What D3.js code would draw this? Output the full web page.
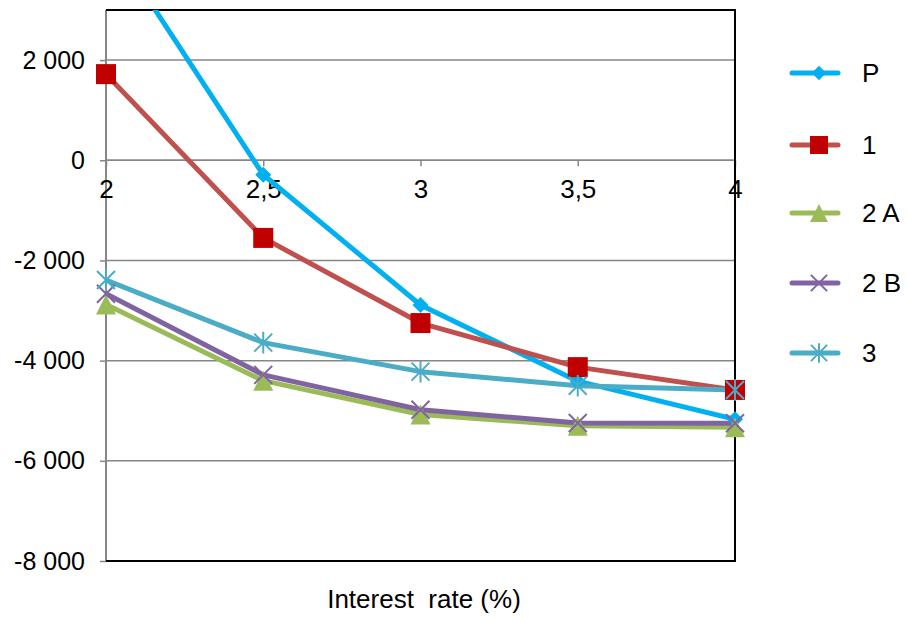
<!DOCTYPE html>
<html>
<head>
<meta charset="utf-8">
<script src="https://cdn.jsdelivr.net/npm/d3@7"></script>
<style>
  body { margin: 0; background: #fff; }
  svg { display: block; }
  text { font-family: "Liberation Sans", Arial, sans-serif; fill: #000; }
</style>
</head>
<body>
<svg id="chart" width="907" height="619"></svg>
<script>
// ---- data ----
const xValues = [2, 2.5, 3, 3.5, 4];
const xTickLabels = ["2", "2,5", "3", "3,5", "4"];
const yTickValues = [-8000, -6000, -4000, -2000, 0, 2000];
const seriesNames = ["P", "1", "2 A", "2 B", "3"];
const valuesP  = [4500, -290, -2890, -4410, -5170];
const values1  = [1720, -1550, -3250, -4130, -4585];
const values2A = [-2880, -4400, -5075, -5300, -5330];
const values2B = [-2665, -4285, -4980, -5245, -5250];
const values3  = [-2390, -3640, -4220, -4500, -4585];
const xTitle = "Interest\u00A0 rate (%)";

const seriesValues = [valuesP, values1, values2A, values2B, values3];
const lineColors   = ["#00B0F0", "#C0504D", "#9BBB59", "#8064A2", "#4BACC6"];
const markerColors = ["#00B0F0", "#C00000", "#9BBB59", "#8064A2", "#4BACC6"];
const markerTypes  = ["diamond", "square", "triangle", "x", "asterisk"];

// ---- layout ----
const svg = d3.select("#chart");
const pL = 106, pR = 735, pT = 10, pB = 561;
const FONT = '"Liberation Sans", Arial, sans-serif';

const x = d3.scaleLinear().domain([2, 4]).range([pL, pR]);
const y = d3.scaleLinear().domain([-8000, 3000]).range([pB, pT]);

const fmt = v => {
  const s = d3.format(",")(Math.abs(v)).replace(/,/g, " ");
  return (v < 0 ? "-" : "") + s;
};

// gridlines
svg.append("g").selectAll("line").data(yTickValues).join("line")
  .attr("x1", pL).attr("x2", pR)
  .attr("y1", d => y(d)).attr("y2", d => y(d))
  .attr("stroke", "#868686").attr("stroke-width", 1.5);

// y axis
const yAxis = d3.axisLeft(y).tickValues(yTickValues).tickSize(6).tickPadding(15).tickFormat(fmt);
const gy = svg.append("g").attr("transform", `translate(${pL},0)`).call(yAxis);
gy.select(".domain").remove();
gy.selectAll(".tick line").attr("stroke", "#868686").attr("stroke-width", 1.5);
gy.selectAll(".tick text").attr("font-size", 25).style("font-family", FONT).attr("fill", "#000");
svg.append("line").attr("x1", pL).attr("x2", pL).attr("y1", pT).attr("y2", pB)
  .attr("stroke", "#868686").attr("stroke-width", 2);

// x axis at y=0
const xAxis = d3.axisBottom(x).tickValues(xValues).tickSize(6).tickPadding(13)
  .tickFormat((d, i) => xTickLabels[i]);
const gx = svg.append("g").attr("transform", `translate(0,${y(0)})`).call(xAxis);
gx.select(".domain").attr("stroke", "#868686").attr("stroke-width", 1.5)
  .attr("d", `M${pL},0H${pR}`);
gx.selectAll(".tick line").attr("stroke", "#868686").attr("stroke-width", 1.5);
gx.selectAll(".tick text").attr("font-size", 26).style("font-family", FONT).attr("fill", "#000");

// plot border (top, right, bottom)
svg.append("path")
  .attr("d", `M${pL},${pT}H${pR}V${pB}H${pL}`)
  .attr("fill", "none").attr("stroke", "#000").attr("stroke-width", 2);

// clip
svg.append("clipPath").attr("id", "plotclip").append("rect")
  .attr("x", pL).attr("y", pT).attr("width", pR - pL).attr("height", pB - pT);

function drawMarker(g, type, cx, cy, color, scale) {
  const s = scale || 1;
  if (type === "diamond") {
    const r = 8 * s;
    g.append("path").attr("d", `M${cx},${cy - r}L${cx + r},${cy}L${cx},${cy + r}L${cx - r},${cy}Z`).attr("fill", color);
  } else if (type === "square") {
    const h = 10 * s;
    g.append("rect").attr("x", cx - h).attr("y", cy - h).attr("width", 2 * h).attr("height", 2 * h).attr("fill", color);
  } else if (type === "triangle") {
    const h = 10 * s;
    g.append("path").attr("d", `M${cx},${cy - h}L${cx + h},${cy + h}L${cx - h},${cy + h}Z`).attr("fill", color);
  } else if (type === "x") {
    const h = 9 * s;
    g.append("path").attr("d", `M${cx - h},${cy - h}L${cx + h},${cy + h}M${cx - h},${cy + h}L${cx + h},${cy - h}`)
      .attr("stroke", color).attr("stroke-width", 2);
  } else if (type === "asterisk") {
    const h = 9 * s;
    g.append("path").attr("d", `M${cx - h},${cy - h}L${cx + h},${cy + h}M${cx - h},${cy + h}L${cx + h},${cy - h}M${cx},${cy - h * 1.2}L${cx},${cy + h * 1.2}`)
      .attr("stroke", color).attr("stroke-width", 2);
  }
}

const line = d3.line().x((d, i) => x(xValues[i])).y(d => y(d));
const plot = svg.append("g").attr("clip-path", "url(#plotclip)");

seriesValues.forEach((vals, si) => {
  plot.append("path").datum(vals).attr("d", line)
    .attr("fill", "none").attr("stroke", lineColors[si]).attr("stroke-width", 5)
    .attr("stroke-linejoin", "round").attr("stroke-linecap", "round");
  const mg = svg.append("g");
  vals.forEach((v, i) => {
    if (v > 3000) return;
    drawMarker(mg, markerTypes[si], x(xValues[i]), y(v), markerColors[si]);
  });
});

// legend
const legendY = [73, 145, 213, 283, 353];
seriesNames.forEach((name, si) => {
  const g = svg.append("g");
  const ly = legendY[si];
  g.append("line").attr("x1", 792).attr("x2", 838).attr("y1", ly).attr("y2", ly)
    .attr("stroke", lineColors[si]).attr("stroke-width", 5).attr("stroke-linecap", "round");
  drawMarker(g, markerTypes[si], 819, ly, markerColors[si], 0.9);
  g.append("text").attr("x", 862).attr("y", ly).attr("dy", "0.35em")
    .attr("font-size", 26).text(name);
});

// x title
svg.append("text").attr("x", 424).attr("y", 608).attr("text-anchor", "middle")
  .attr("font-size", 26).text(xTitle);
</script>
</body>
</html>
